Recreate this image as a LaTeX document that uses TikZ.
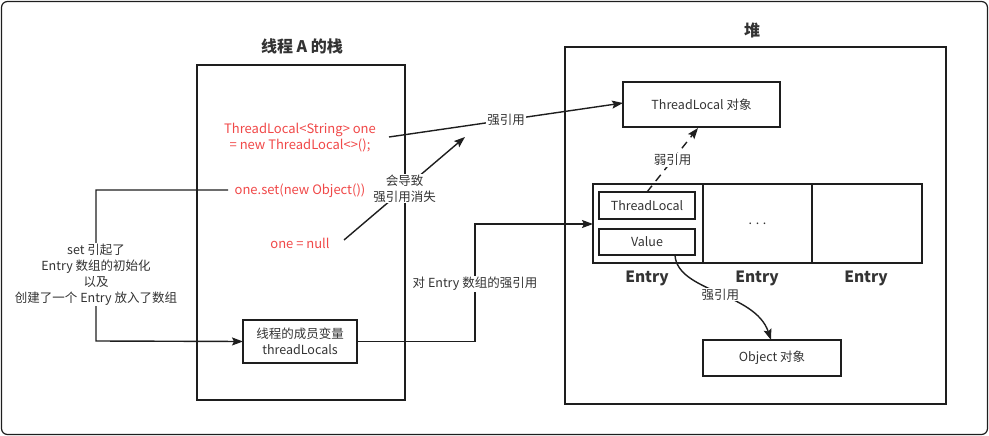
\documentclass[tikz,border=0pt]{standalone}
\usepackage{fontspec}
\setmainfont{Noto Sans CJK SC}
\usetikzlibrary{arrows.meta}
\definecolor{ink}{RGB}{30,30,30}
\definecolor{txt}{RGB}{51,51,51}
\definecolor{redtxt}{RGB}{240,72,72}
\tikzset{
  ln/.style={draw=ink,line width=1.4pt},
  arr/.style={ln,-{Stealth[length=11pt,width=8pt,inset=2pt]}},
  box/.style={draw=ink,line width=1.4pt,rectangle,inner sep=0pt,outer sep=0pt,text=txt,font=\fontsize{12.5}{15.5}\selectfont,align=center},
  lbl/.style={text=txt,font=\fontsize{12.5}{16}\selectfont,align=center,inner sep=1pt},
  lblw/.style={lbl,fill=white},
  red/.style={text=redtxt,font=\fontsize{13}{16}\selectfont,align=center,inner sep=1pt},
  ttl/.style={text=txt,font=\fontsize{16}{18}\selectfont\bfseries},
  ent/.style={text=txt,font=\fontsize{15.5}{18}\selectfont\bfseries},
}
\begin{document}
\begin{tikzpicture}[x=1pt,y=-1pt]
\useasboundingbox (0,0) rectangle (989,436);
\draw[draw=ink,line width=1.2pt,rounded corners=6pt] (1.5,1.5) rectangle (987.5,434.5);
% stack
\node[box,minimum width=208,minimum height=335] (stack) at (301,232.5) {};
\node[ttl] (stt) at (302,46) {线程 A 的栈};
% heap
\node[box,minimum width=381,minimum height=357] (heap) at (755.5,225.5) {};
\node[ttl] (hpt) at (752,30) {堆};
% heap contents
\node[box,minimum width=157,minimum height=45] (tlobj) at (701.5,104.5) {ThreadLocal 对象};
\node[box,minimum width=110,minimum height=79] (e1) at (648,223.5) {};
\node[box,minimum width=109,minimum height=79] (e2) at (757.5,223.5) {. . .};
\node[box,minimum width=110,minimum height=79] (e3) at (867,223.5) {};
\node[box,minimum width=96,minimum height=27] (tl) at (647,205.5) {ThreadLocal};
\node[box,minimum width=96,minimum height=26] (val) at (647,242) {Value};
\node[ent] (el1) at (647,278) {Entry};
\node[ent] (el2) at (757,278) {Entry};
\node[ent] (el3) at (866,278) {Entry};
\node[box,minimum width=138,minimum height=36] (obj) at (772,358) {Object 对象};
% stack contents
\node[red] (decl) at (300,138) {ThreadLocal<String> one\\= new ThreadLocal<>();};
\node[red] (set) at (300,191) {one.set(new Object())};
\node[red] (null) at (300,243) {one = null};
\node[box,minimum width=114,minimum height=43] (tloc) at (300,341.5) {线程的成员变量\\threadLocals};
% connectors
\coordinate (a1) at (389,137);
\coordinate (a2) at (344,240);
\coordinate (a2e) at (465,137);
\coordinate (s0) at (228,190);
\draw[arr] (a1) -- node[lblw]{强引用} (623,103);
\draw[arr] (a2) -- node[lblw]{会导致\\强引用消失} (a2e);
\draw[arr] (s0) -- (96,190) -- node[lblw,pos=0.56]{set 引起了\\Entry 数组的初始化\\以及\\创建了一个 Entry 放入了数组} (96,341) -- (tloc.west);
\draw[arr] (tloc.east) -- (475,341.5) -- node[lblw,pos=0.49]{对 Entry 数组的强引用} (475,224) -- (e1.west |- 0,224);
\draw[arr,dash pattern=on 8pt off 6pt] (tl.north) -- node[lblw]{弱引用} (698,128);
\draw[arr] ([xshift=28pt]val.south) .. controls (677,292) and (755,292) .. node[lblw,pos=0.52]{强引用} ([xshift=-1pt]obj.north);
\end{tikzpicture}
\end{document}
